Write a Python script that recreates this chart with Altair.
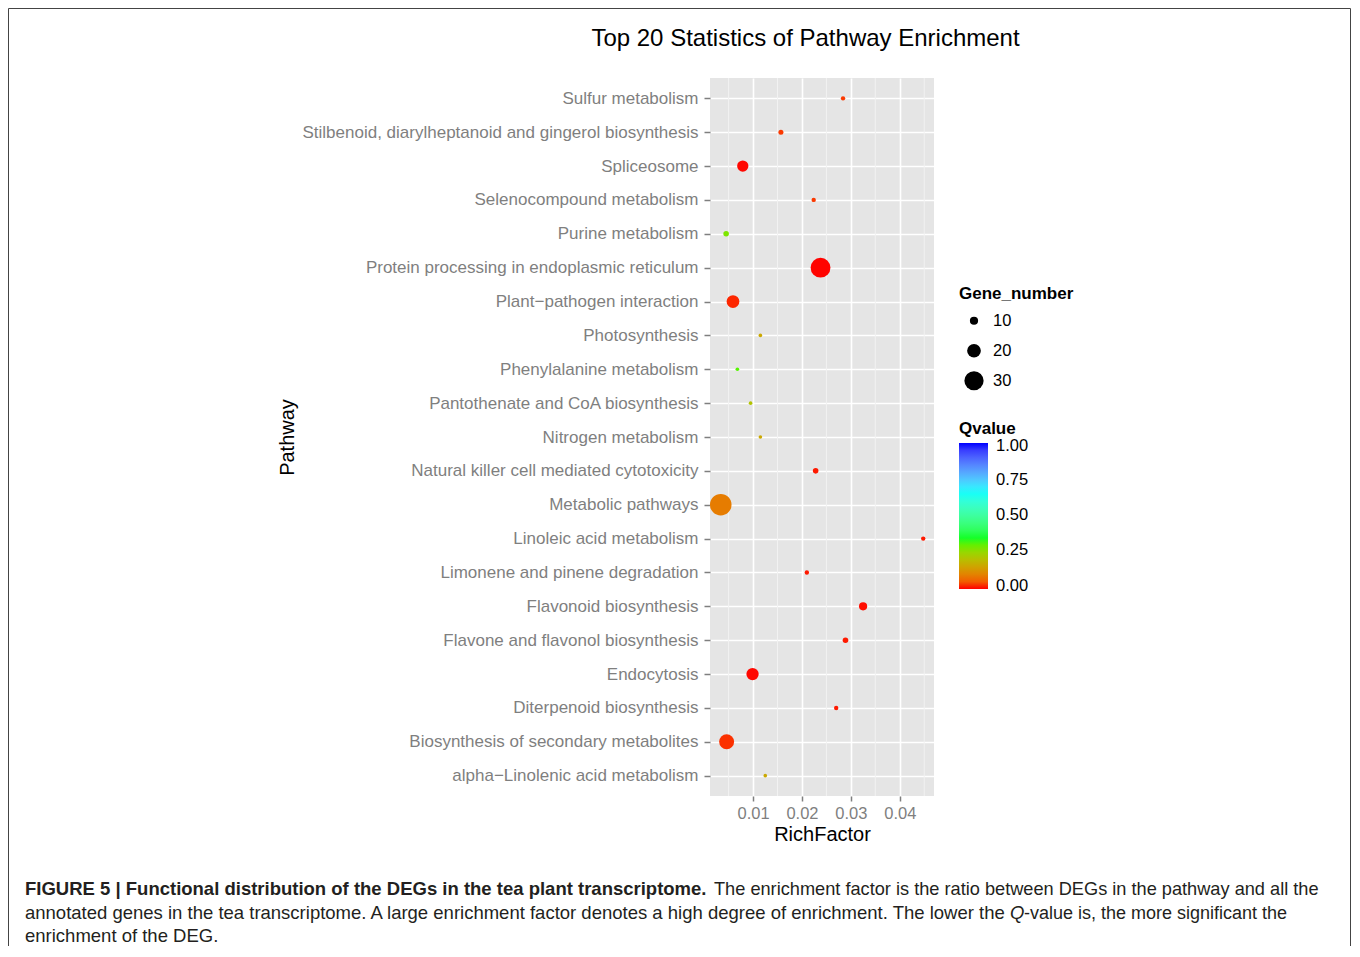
import altair as alt
import pandas as pd

# ---------------- data ----------------
pathways = [
    "Sulfur metabolism",
    "Stilbenoid, diarylheptanoid and gingerol biosynthesis",
    "Spliceosome",
    "Selenocompound metabolism",
    "Purine metabolism",
    "Protein processing in endoplasmic reticulum",
    "Plant\u2212pathogen interaction",
    "Photosynthesis",
    "Phenylalanine metabolism",
    "Pantothenate and CoA biosynthesis",
    "Nitrogen metabolism",
    "Natural killer cell mediated cytotoxicity",
    "Metabolic pathways",
    "Linoleic acid metabolism",
    "Limonene and pinene degradation",
    "Flavonoid biosynthesis",
    "Flavone and flavonol biosynthesis",
    "Endocytosis",
    "Diterpenoid biosynthesis",
    "Biosynthesis of secondary metabolites",
    "alpha\u2212Linolenic acid metabolism",
]
rich_factor = [0.0284, 0.0157, 0.0079, 0.0224, 0.0045, 0.0238, 0.0059,
               0.0115, 0.0068, 0.0095, 0.0115, 0.0228, 0.0034, 0.0448,
               0.0210, 0.0325, 0.0289, 0.0099, 0.0270, 0.0046, 0.0125]
gene_number = [2, 3, 15, 2, 4, 31, 18, 1, 1, 1, 1, 4, 34, 2, 2, 10, 4, 17, 2, 22, 1]
q_value = [0.02, 0.02, 0.001, 0.02, 0.28, 0.0005, 0.01, 0.16, 0.31, 0.21,
           0.16, 0.005, 0.09, 0.005, 0.005, 0.002, 0.005, 0.001, 0.005, 0.015, 0.16]

x_ticks = [0.01, 0.02, 0.03, 0.04]
x_minor = [0.005, 0.015, 0.025, 0.035, 0.045]
size_ticks = [10, 20, 30]
q_ticks = [0.02, 0.265, 0.505, 0.745, 0.98]   # label spots on the colour bar (0.00 ... 1.00)

title_text = "Top 20 Statistics of Pathway Enrichment"
caption_bold = "FIGURE 5 | Functional distribution of the DEGs in the tea plant transcriptome."
caption_1 = "The enrichment factor is the ratio between DEGs in the pathway and all the"
caption_2a = "annotated genes in the tea transcriptome. A large enrichment factor denotes a high degree of enrichment. The lower the"
caption_2q = "Q"
caption_2b = "-value is, the more significant the"
caption_3 = "enrichment of the DEG."

df = pd.DataFrame({
    "Pathway": pathways,
    "RichFactor": rich_factor,
    "Gene_number": gene_number,
    "Qvalue": q_value,
})
minor_df = pd.DataFrame({"RichFactor": x_minor})

FONT = "Liberation Sans"
GREY = "#7F7F7F"
W, H = 224, 718
PAD_L, PAD_T, PAD_R, PAD_B = 702, 70, 418, 150

# symbol diameter grows ~linearly with gene number (Vega circle: diameter = sqrt(size))
size_domain = [0, 10, 20, 30, 40]
size_range = [(2.7 + 0.55 * v) ** 2 for v in size_domain]

xscale = alt.Scale(domain=[0.0012, 0.0470], nice=False, zero=False)
xaxis = alt.Axis(
    values=x_ticks, format=".2f", title="RichFactor",
    titleFontSize=20, titleFontWeight="normal", titleColor="black",
    titleY=38, titleBaseline="middle",
    labelFontSize=16.5, labelColor=GREY, labelPadding=4,
    tickColor=GREY, tickSize=5, tickWidth=1.5,
    domain=False, grid=True, gridColor="white", gridWidth=1.6,
)

minor = alt.Chart(minor_df).mark_rule(color="#F2F2F2", strokeWidth=1).encode(
    x=alt.X("RichFactor:Q", scale=xscale, axis=xaxis, title="RichFactor")
)

points = alt.Chart(df).mark_circle(opacity=1).encode(
    x=alt.X("RichFactor:Q", scale=xscale, axis=xaxis, title="RichFactor"),
    y=alt.Y(
        "Pathway:N", sort=pathways,
        scale=alt.Scale(type="point", domain=pathways, padding=0.6),
        axis=alt.Axis(
            title="Pathway", titleFontSize=20, titleFontWeight="normal",
            titleColor="black", titleAngle=270, titleX=-423, titleY=359,
            titleAlign="center", titleBaseline="middle",
            labelFontSize=17, labelColor=GREY, labelPadding=6, labelLimit=1000,
            tickColor=GREY, tickSize=6, tickWidth=1.5,
            domain=False, grid=True, gridColor="white", gridWidth=1.6,
        ),
    ),
    size=alt.Size(
        "Gene_number:Q",
        scale=alt.Scale(domain=size_domain, range=size_range),
        legend=alt.Legend(
            title="Gene_number", orient="none", legendX=249, legendY=208,
            values=size_ticks, titleFontSize=17, titleFontWeight="bold",
            titleColor="black", labelFontSize=16.5, labelColor="black",
            symbolFillColor="black", symbolOpacity=1, symbolStrokeWidth=0,
            symbolType="circle", clipHeight=27.5, rowPadding=2,
            symbolOffset=5, labelOffset=9, titlePadding=4,
        ),
    ),
    color=alt.Color(
        "Qvalue:Q",
        scale=alt.Scale(domain=[0, 1 / 3, 2 / 3, 1],
                        range=["#FF0000", "#00FF00", "#00FFFF", "#0000FF"],
                        interpolate="lab"),
        legend=alt.Legend(
            title="Qvalue", orient="none", legendX=249, legendY=343,
            values=q_ticks, labelExpr="format(round(datum.value * 4) / 4, '.2f')",
            direction="vertical",
            gradientLength=146, gradientThickness=29, gradientStrokeWidth=0,
            titleFontSize=17, titleFontWeight="bold", titleColor="black",
            labelFontSize=16.5, labelColor="black", labelOffset=8,
            titlePadding=5,
        ),
    ),
)

one = alt.Data(values=[{}])


def caption(text, x, y, weight="normal", style="normal", size=18.5, align="left"):
    return alt.Chart(one).mark_text(
        text=text, align=align, baseline="alphabetic", font=FONT,
        fontSize=size, fontWeight=weight, fontStyle=style, color="#231F20",
    ).encode(x=alt.value(x), y=alt.value(y))


title_mark = alt.Chart(one).mark_text(
    text=title_text, align="center", baseline="alphabetic", font=FONT,
    fontSize=24, color="black",
).encode(x=alt.value(95.5), y=alt.value(-32))

captions = [
    caption(caption_bold, -685, 817, weight="bold"),
    caption(caption_1, 4, 817, size=18.2),
    caption(caption_2a, -685, 840.5),
    caption(caption_2q, 300, 840.5, style="italic"),
    caption(caption_2b, 314, 840.5, size=18),
    caption(caption_3, -685, 863.5),
]

frame_left = alt.Chart(one).mark_rule(color="#444444", strokeWidth=1).encode(
    x=alt.value(-701.5), y=alt.value(-69.5), y2=alt.value(H + PAD_B))
frame_right = alt.Chart(one).mark_rule(color="#444444", strokeWidth=1).encode(
    x=alt.value(W + PAD_R - 1.5), y=alt.value(-69.5), y2=alt.value(H + PAD_B))
frame_top = alt.Chart(one).mark_rule(color="#444444", strokeWidth=1).encode(
    x=alt.value(-701.5), x2=alt.value(W + PAD_R - 1.5), y=alt.value(-69.5))

chart = alt.layer(
    minor, points, title_mark, *captions, frame_left, frame_right, frame_top
).properties(
    width=W, height=H,
    padding={"left": PAD_L, "top": PAD_T, "right": PAD_R, "bottom": PAD_B},
    autosize=alt.AutoSizeParams(type="none"),
).configure(font=FONT).configure_view(fill="#E5E5E5", strokeWidth=0)

chart.save("out.html", embed_options={"renderer": "svg", "actions": False})
